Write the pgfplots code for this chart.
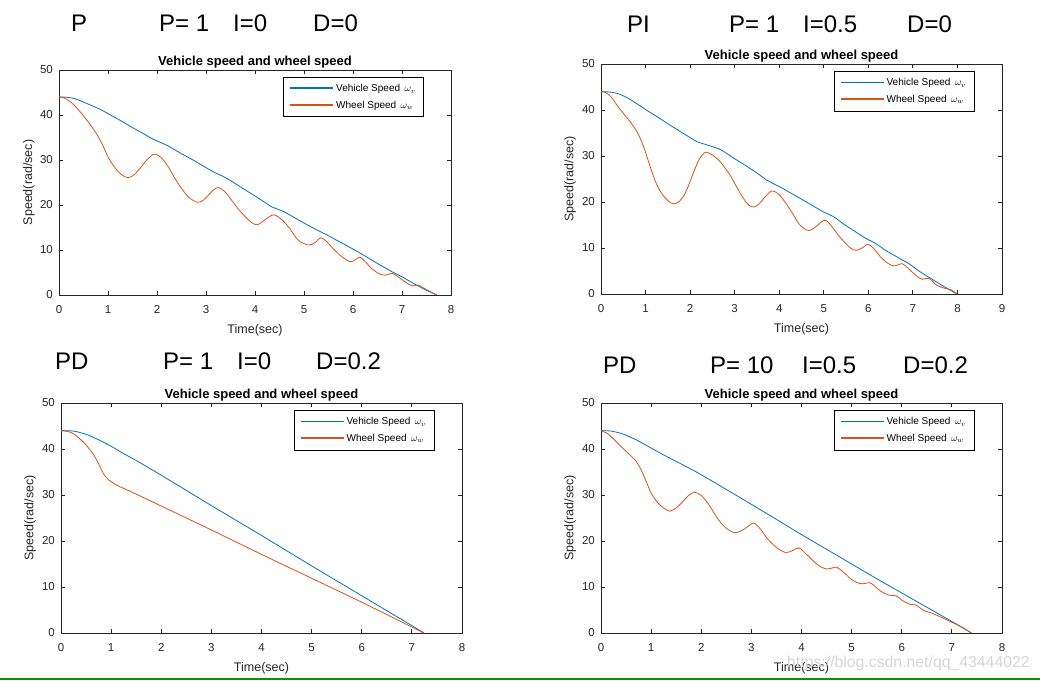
\documentclass[border=0pt]{standalone}
\usepackage{fontspec}
\setmainfont{Liberation Sans}
\usepackage{pgfplots}
\pgfplotsset{compat=1.18}
\definecolor{mblue}{RGB}{0,114,189}
\definecolor{morange}{RGB}{217,83,25}
\definecolor{axgray}{RGB}{38,38,38}
\definecolor{wm}{RGB}{214,214,214}
\definecolor{grn}{RGB}{0,150,0}

\pgfplotsset{
  mlab/.style={
    scale only axis,
    xmin=0, ymin=0, ymax=50,
    ytick={0,10,20,30,40,50},
    tick align=inside,
    major tick length=4pt,
    axis line style={axgray, line width=0.8pt},
    tick style={axgray, line width=0.8pt},
    /pgf/number format/assume math mode=true,
    tick label style={font=\fontsize{11.5}{13}\selectfont, text=axgray},
    xticklabel style={inner sep=0pt, yshift=-10.5pt},
    yticklabel style={inner sep=0pt, xshift=-6pt},
    title={Vehicle speed and wheel speed},
    title style={font=\fontsize{13}{15}\selectfont\bfseries, at={(axis description cs:0.5,1)}, anchor=center, yshift=2pt},
    xlabel={Time(sec)},
    ylabel={Speed(rad/sec)},
    label style={font=\fontsize{12.5}{14}\selectfont, text=axgray},
    xlabel style={at={(axis description cs:0.5,0)}, anchor=center, yshift=-35pt},
    ylabel style={at={(axis description cs:-0.077,0.5)}, anchor=center},
    legend cell align=left,
    legend image code/.code={\draw[##1, line width=1.6pt] (0pt,0.5pt) -- (43pt,0.5pt);},
    legend style={at={(axis description cs:0.931,0.969)}, anchor=north east, draw=black, line width=0.7pt, fill=white, font=\fontsize{10}{12}\selectfont, inner xsep=6pt, inner ysep=5pt, row sep=4pt, nodes={inner sep=2pt}},
  },
  vs/.style={mblue, line width=0.8pt, no marks, smooth, tension=0.4},
  ws/.style={morange, line width=0.8pt, no marks, smooth, tension=0.5},
}

\begin{document}
\begin{tikzpicture}
\useasboundingbox (0pt,0pt) rectangle (1040pt,680pt);
\fill[white] (0pt,0pt) rectangle (1040pt,680pt);

% headers
\begin{scope}[every node/.style={anchor=base west, font=\fontsize{24}{28}\selectfont, inner sep=0pt}]
\node at (71pt,648pt) {P};
\node at (159pt,648pt) {P= 1};
\node at (233pt,648pt) {I=0};
\node at (313pt,648pt) {D=0};
\node at (627pt,647pt) {PI};
\node at (729pt,647pt) {P= 1};
\node at (803pt,647pt) {I=0.5};
\node at (907pt,647pt) {D=0};
\node at (55pt,310pt) {PD};
\node at (163pt,310pt) {P= 1};
\node at (237pt,310pt) {I=0};
\node at (316pt,310pt) {D=0.2};
\node at (603pt,306pt) {PD};
\node at (710pt,306pt) {P= 10};
\node at (802pt,306pt) {I=0.5};
\node at (903pt,306pt) {D=0.2};
\end{scope}

% ---------- P ----------
\begin{axis}[mlab, at={(59pt,385pt)}, anchor=south west, width=392pt, height=225pt,
  xmax=8, xtick={0,1,...,8}]
\addplot[vs] coordinates {(0,44) (0.15,43.95) (0.3,43.7) (0.45,43.1) (0.6,42.4) (0.75,41.7) (0.87,41.1) (1.0,40.3) (1.25,38.8) (1.5,37.2) (1.75,35.7) (1.89,34.8) (2.05,34.0) (2.23,33.1) (2.5,31.4) (2.75,29.9) (3.0,28.3) (3.18,27.2) (3.32,26.5) (3.46,25.7) (3.75,23.7) (4.0,22.0) (4.2,20.6) (4.34,19.6) (4.48,19.0) (4.61,18.4) (4.9,16.6) (5.1,15.4) (5.29,14.3) (5.42,13.6) (5.56,12.8) (5.8,11.4) (6.0,10.2) (6.24,8.7) (6.5,7.0) (6.79,5.2) (6.99,4.1) (7.2,2.8) (7.45,1.3) (7.71,0)};
\addlegendentry{Vehicle Speed \,$\omega_v$}
\addplot[ws] coordinates {(0,44) (0.1,43.8) (0.2,43.2) (0.3,42.3) (0.4,41.1) (0.5,39.8) (0.6,38.4) (0.7,36.9) (0.8,35.2) (0.9,33.1) (1.0,30.7) (1.1,28.9) (1.21,27.4) (1.31,26.5) (1.41,26.1) (1.52,26.6) (1.65,28.1) (1.8,30.1) (1.94,31.3) (2.08,30.6) (2.23,28.5) (2.36,26.0) (2.5,23.7) (2.65,21.7) (2.82,20.6) (2.94,21.0) (3.05,22.2) (3.15,23.3) (3.25,23.9) (3.38,23.0) (3.52,21.1) (3.66,19.1) (3.8,17.4) (3.93,16.1) (4.05,15.6) (4.2,16.7) (4.37,17.8) (4.52,17.0) (4.68,15.2) (4.88,12.2) (5.09,11.1) (5.22,11.6) (5.34,12.7) (5.45,12.0) (5.56,10.7) (5.75,8.7) (5.94,7.4) (6.04,7.8) (6.14,8.4) (6.26,7.3) (6.38,5.9) (6.52,4.8) (6.65,4.4) (6.8,4.8) (6.9,4.2) (6.99,3.5) (7.12,2.5) (7.23,2.0) (7.33,2.2) (7.5,1.2) (7.71,0)};
\addlegendentry{Wheel Speed \,$\omega_w$}
\end{axis}

% ---------- PI ----------
\begin{axis}[mlab, at={(601pt,386pt)}, anchor=south west, width=401pt, height=230pt,
  xmax=9, xtick={0,1,...,9}]
\addplot[vs] coordinates {(0,44) (0.2,43.9) (0.4,43.5) (0.6,42.6) (0.75,41.7) (0.88,40.9) (1.0,40.1) (1.25,38.6) (1.5,37.0) (1.75,35.5) (2.0,34.0) (2.16,33.1) (2.38,32.4) (2.68,31.4) (3.0,29.4) (3.25,27.9) (3.5,26.3) (3.73,24.7) (4.03,23.2) (4.25,22.0) (4.5,20.6) (4.75,19.2) (5.0,17.8) (5.22,16.8) (5.45,15.2) (5.7,13.6) (5.94,12.1) (6.16,11.0) (6.4,9.4) (6.6,8.3) (6.76,7.4) (6.91,6.6) (7.15,4.9) (7.4,3.4) (7.7,1.6) (7.99,0)};
\addlegendentry{Vehicle Speed \,$\omega_v$}
\addplot[ws] coordinates {(0,44) (0.1,43.8) (0.2,43.1) (0.28,42.2) (0.36,41.0) (0.5,39.3) (0.65,37.5) (0.81,35.2) (0.95,32.2) (1.07,28.7) (1.17,25.8) (1.26,23.6) (1.38,21.6) (1.5,20.3) (1.62,19.6) (1.74,20.0) (1.86,21.4) (1.97,23.7) (2.08,26.5) (2.2,29.2) (2.34,30.8) (2.5,30.2) (2.68,28.7) (2.9,25.8) (3.05,23.2) (3.2,20.7) (3.32,19.3) (3.43,18.9) (3.55,19.6) (3.7,21.3) (3.84,22.4) (4.0,21.6) (4.18,19.3) (4.32,17.2) (4.44,15.3) (4.56,14.2) (4.68,13.8) (4.82,14.6) (5.0,16.0) (5.1,15.6) (5.22,14.2) (5.35,12.5) (5.49,11.0) (5.61,9.9) (5.73,9.5) (5.86,10.0) (5.99,10.8) (6.12,9.9) (6.27,8.1) (6.42,6.8) (6.56,6.1) (6.66,6.3) (6.76,6.6) (6.87,5.8) (6.98,4.8) (7.1,3.8) (7.21,3.2) (7.36,3.4) (7.54,1.9) (7.73,1.2) (7.84,1.0) (8.0,0)};
\addlegendentry{Wheel Speed \,$\omega_w$}
\end{axis}

% ---------- PD ----------
\begin{axis}[mlab, at={(61pt,47pt)}, anchor=south west, width=401pt, height=230pt,
  xmax=8, xtick={0,1,...,8}]
\addplot[vs] coordinates {(0,44) (0.25,43.9) (0.5,43.2) (0.75,42.0) (1.0,40.6) (1.25,39.0) (1.5,37.5) (2.0,34.3) (3.0,27.7) (4.0,21.2) (5.0,14.6) (6.0,8.1) (7.0,1.6) (7.24,0)};
\addlegendentry{Vehicle Speed \,$\omega_v$}
\addplot[ws] coordinates {(0,44) (0.2,43.6) (0.4,42.0) (0.55,40.2) (0.65,38.8) (0.75,36.8) (0.85,34.6) (0.95,33.3) (1.1,32.2) (1.3,31.2) (1.5,30.2) (2.0,27.6) (3.0,22.4) (4.0,17.1) (5.0,11.9) (6.0,6.7) (7.0,1.3) (7.24,0)};
\addlegendentry{Wheel Speed \,$\omega_w$}
\end{axis}

% ---------- PID ----------
\begin{axis}[mlab, at={(601pt,47pt)}, anchor=south west, width=401pt, height=230pt,
  xmax=8, xtick={0,1,...,8}]
\addplot[vs] coordinates {(0,44) (0.2,43.9) (0.4,43.4) (0.52,42.9) (0.7,42.0) (0.92,40.7) (1.2,39.0) (1.5,37.3) (1.92,34.9) (2.5,31.2) (2.98,28.1) (3.5,24.7) (4.0,21.4) (4.5,18.2) (5.0,15.0) (5.5,11.8) (6.0,8.7) (6.5,5.6) (7.0,2.5) (7.39,0)};
\addlegendentry{Vehicle Speed \,$\omega_v$}
\addplot[ws] coordinates {(0,44) (0.15,43.2) (0.32,41.4) (0.45,40.0) (0.59,38.6) (0.7,37.3) (0.79,35.7) (0.9,33.0) (0.99,30.6) (1.07,29.2) (1.15,28.1) (1.27,27.0) (1.38,26.5) (1.5,27.2) (1.62,28.4) (1.75,29.9) (1.86,30.6) (1.99,30.0) (2.12,28.4) (2.25,26.2) (2.38,24.1) (2.52,22.6) (2.68,21.8) (2.86,22.6) (3.04,23.9) (3.18,22.6) (3.32,20.5) (3.5,18.6) (3.68,17.5) (3.82,17.9) (3.95,18.5) (4.1,17.1) (4.25,15.5) (4.38,14.4) (4.51,13.9) (4.6,14.1) (4.7,14.3) (4.84,13.2) (4.98,11.8) (5.1,11.0) (5.21,10.7) (5.37,10.9) (5.48,10.0) (5.58,9.1) (5.75,8.2) (5.88,8.1) (6.05,6.8) (6.18,6.2) (6.28,6.1) (6.44,4.9) (6.58,4.4) (6.71,3.8) (6.91,2.8) (7.18,1.4) (7.39,0)};
\addlegendentry{Wheel Speed \,$\omega_w$}
\end{axis}

\node[anchor=base west, inner sep=0pt, text=wm, font=\fontsize{15.8}{18}\selectfont] at (787pt,13pt) {https://blog.csdn.net/qq\_43444022};
\fill[grn] (0pt,0pt) rectangle (1040pt,2.5pt);
\end{tikzpicture}
\end{document}
